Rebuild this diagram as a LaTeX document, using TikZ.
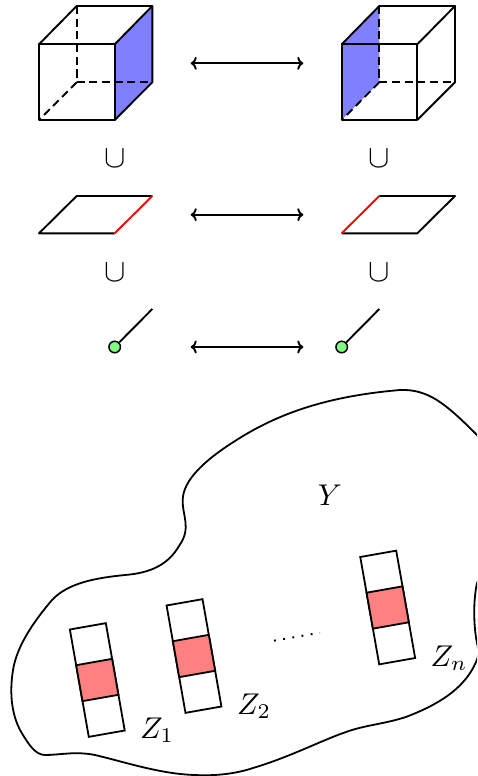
\documentclass[tikz,border=0pt]{standalone}
\usepackage{amsmath,amssymb}
\usepackage{xcolor}
\usetikzlibrary{arrows.meta}

\begin{document}
\begin{tikzpicture}[x=1pt, y=-1pt,
    edgeline/.style={draw=black, line width=1.9pt, line join=round},
    hiddenline/.style={draw=black, line width=1.9pt, dash pattern=on 8pt off 4.7pt},
    redline/.style={draw=red, line width=1.9pt},
    facefill/.style={fill=blue!50},
    arrow/.style={draw=black, {To[length=6pt,width=13pt]}-{To[length=6pt,width=13pt]}, line width=1.9pt},
    cupnode/.style={inner sep=0pt, scale=3.2},
    labelnode/.style={inner sep=0pt, scale=3},
    pointnode/.style={circle, draw=black, fill=green!50, line width=1.5pt, inner sep=0pt, minimum size=11.5pt},
    stripnode/.style={rectangle, draw=black, line width=1.8pt, inner sep=0pt, minimum width=36.5pt, minimum height=109pt, rotate=10},
    cellnode/.style={rectangle, draw=black, fill=red!50, line width=1.8pt, inner sep=0pt, minimum width=36.5pt, minimum height=36.5pt, rotate=10}]

    \clip (0,0) rectangle (477,776);
    \useasboundingbox (0,0) rectangle (477,776);

    % cubes
    \fill [facefill] (114.7,44.3) -- (152.3,6) -- (152.3,82.3) -- (114.7,120) -- cycle;
    \draw [hiddenline] (76.7,6) -- (76.7,82.3) -- (152.3,82.3);
    \draw [hiddenline] (76.7,82.3) -- (39,120);
    \draw [edgeline] (39,44.3) rectangle (114.7,120);
    \draw [edgeline] (39,44.3) -- (76.7,6) -- (152.3,6) -- (114.7,44.3);
    \draw [edgeline] (152.3,6) -- (152.3,82.3) -- (114.7,120);

    \fill [facefill] (341.7,44.3) -- (379.3,6) -- (379.3,82.3) -- (341.7,120) -- cycle;
    \draw [hiddenline] (379.3,6) -- (379.3,82.3) -- (455,82.3);
    \draw [hiddenline] (379.3,82.3) -- (341.7,120);
    \draw [edgeline] (341.7,44.3) rectangle (417.3,120);
    \draw [edgeline] (341.7,44.3) -- (379.3,6) -- (455,6) -- (417.3,44.3);
    \draw [edgeline] (455,6) -- (455,82.3) -- (417.3,120);

    \node [cupnode] (cupa) at (114.7,158.5) {$\cup$};
    \node [cupnode] (cupb) at (379.3,158.5) {$\cup$};

    % squares
    \draw [edgeline] (114.7,233.3) -- (39,233.3) -- (76.7,196) -- (152.3,196);
    \draw [redline] (114.7,233.3) -- (152.3,196);
    \draw [edgeline] (341.7,233.3) -- (417.3,233.3) -- (455,196) -- (379.3,196);
    \draw [redline] (341.7,233.3) -- (379.3,196);

    \node [cupnode] (cupc) at (114.7,272.5) {$\cup$};
    \node [cupnode] (cupd) at (379.3,272.5) {$\cup$};

    % segments
    \coordinate (enda) at (152.3,309);
    \coordinate (endb) at (379.3,309);
    \node [pointnode] (pta) at (114.7,347) {};
    \node [pointnode] (ptb) at (341.7,347) {};
    \draw [edgeline] (pta) -- (enda);
    \draw [edgeline] (ptb) -- (endb);

    \coordinate (la) at (190.7,63.3);
    \coordinate (ra) at (303.3,63.3);
    \coordinate (lb) at (190.7,214.7);
    \coordinate (rb) at (303.3,214.7);
    \coordinate (lc) at (190.7,347);
    \coordinate (rc) at (303.3,347);
    \draw [arrow] (la) -- (ra);
    \draw [arrow] (lb) -- (rb);
    \draw [arrow] (lc) -- (rc);

    % big region
    \draw [draw=black, line width=1.8pt] (400,390)
        .. controls (428,389) and (445,403) .. (477,435)
        .. controls (510,470) and (500,540) .. (477,583)
        .. controls (473.3,600) and (473.3,625) .. (477,643)
        .. controls (479,652) and (479,655) .. (476,662)
        .. controls (466,685) and (445,702) .. (406.7,716.7)
        .. controls (385,724) and (365,725) .. (346,732)
        .. controls (320,741) and (290,757) .. (253,768)
        .. controls (235,774) and (215,776) .. (195,775)
        .. controls (160,774) and (125,762) .. (95,755)
        .. controls (75,751) and (60,755) .. (45,755)
        .. controls (35,755) and (28,743) .. (23,735)
        .. controls (12,718) and (9,695) .. (13,670)
        .. controls (17,645) and (35,620) .. (52,600)
        .. controls (68,583) and (95,578) .. (125,575)
        .. controls (150,573) and (168,565) .. (179,546)
        .. controls (192,528) and (182,515) .. (182.7,500)
        .. controls (183,480) and (205,460) .. (235,441)
        .. controls (280,412) and (330,396) .. (400,390) -- cycle;

    \node [stripnode] (za) at (97.3,680) {};
    \node [cellnode] (zacell) at (97.3,680) {};
    \node [stripnode] (zb) at (194,656) {};
    \node [cellnode] (zbcell) at (194,656) {};
    \node [stripnode] (zn) at (387.7,607.5) {};
    \node [cellnode] (zncell) at (387.7,607.5) {};

    \coordinate (dotsa) at (274,640.7);
    \coordinate (dotsb) at (320,632.7);
    \draw [draw=black, line width=1.9pt, dash pattern=on 1.9pt off 7.4pt] (dotsa) -- (dotsb);

    \node [labelnode] (ylabel) at (330,495) {$Y$};
    \node [labelnode] (zalabel) at (157,730) {$Z_1$};
    \node [labelnode] (zblabel) at (254,706) {$Z_2$};
    \node [labelnode] (znlabel) at (449,658) {$Z_n$};

\end{tikzpicture}
\end{document}
